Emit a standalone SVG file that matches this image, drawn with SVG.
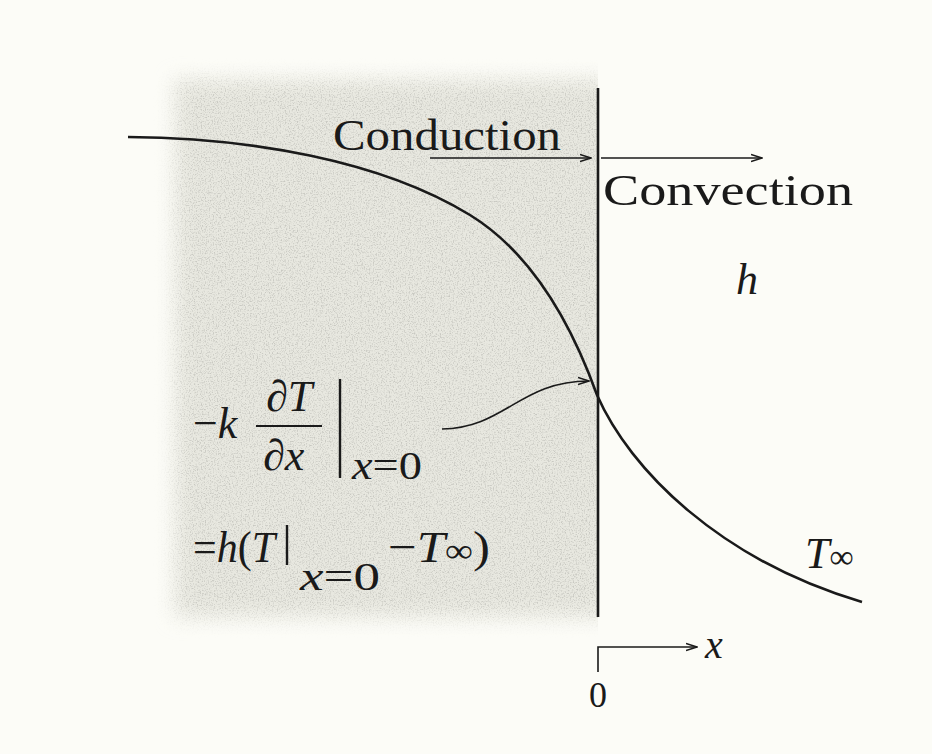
<svg xmlns="http://www.w3.org/2000/svg" width="932" height="754" viewBox="0 0 932 754">
<defs>
<style>
.t{font-family:"Liberation Serif","Times New Roman",serif;fill:#1a1a1a}
.i{font-style:italic}
.ln{fill:none;stroke:#1a1a1a}
</style>
<filter id="blur" x="-10%" y="-10%" width="120%" height="120%"><feGaussianBlur stdDeviation="10"/></filter>
<filter id="noise" x="0" y="0" width="100%" height="100%"><feTurbulence type="fractalNoise" baseFrequency="0.75" numOctaves="2" seed="4"/><feColorMatrix type="matrix" values="0 0 0 0 0.4  0 0 0 0 0.4  0 0 0 0 0.37  3.2 0 0 0 -1.5"/></filter>
<mask id="shadeMask"><rect x="175" y="80" width="450" height="537" fill="#fff" filter="url(#blur)"/></mask>
<marker id="ah" viewBox="0 0 12 10" refX="11" refY="5" markerWidth="12" markerHeight="10" markerUnits="userSpaceOnUse" orient="auto"><path d="M0,1.5 L11,5 L0,8.5" fill="none" stroke="#1a1a1a" stroke-width="1.5"/></marker>
<clipPath id="clipL"><rect x="0" y="0" width="598" height="754"/></clipPath>
</defs>
<rect width="932" height="754" fill="#fcfcf7"/>
<g id="shade" clip-path="url(#clipL)">
<rect x="175" y="80" width="450" height="537" fill="#e8e8e0" filter="url(#blur)"/>
<rect x="150" y="55" width="460" height="585" filter="url(#noise)" mask="url(#shadeMask)" opacity="0.5"/>
</g>
<g id="wall"><line class="ln" x1="598" y1="88" x2="598" y2="617" stroke-width="2.6"/></g>
<g id="curve"><path class="ln" stroke-width="2.6" d="M128,137 C250,138 380,160 470,215 C530,252 570,320 597,395 C630,470 720,560 862,602"/></g>
<g id="connectors">
<line class="ln" x1="430" y1="158" x2="591" y2="158" stroke-width="1.6" marker-end="url(#ah)"/>
<line class="ln" x1="601" y1="158" x2="762" y2="158" stroke-width="1.6" marker-end="url(#ah)"/>
<path class="ln" stroke-width="1.6" d="M442,429 C505,428 520,381 589,381" marker-end="url(#ah)"/>
<path class="ln" stroke-width="1.6" d="M598,672 L598,647 L697,647" marker-end="url(#ah)"/>
</g>
<g id="conduction"><text class="t" x="333" y="150" font-size="44" textLength="228" lengthAdjust="spacingAndGlyphs">Conduction</text></g>
<g id="convection"><text class="t" x="603" y="205" font-size="44" textLength="250" lengthAdjust="spacingAndGlyphs">Convection</text></g>
<g id="h"><text class="t i" x="736" y="294" font-size="44">h</text></g>
<g id="flux">
<text class="t" x="193" y="438" font-size="44">−<tspan class="i">k</tspan></text>
<text class="t" x="266" y="411" font-size="44">∂<tspan class="i">T</tspan></text>
<line class="ln" x1="256" y1="426" x2="322" y2="426" stroke-width="2"/>
<text class="t" x="263" y="470" font-size="44">∂<tspan class="i">x</tspan></text>
<line class="ln" x1="340" y1="379" x2="340" y2="478" stroke-width="2.4"/>
<text class="t" x="352" y="479" font-size="40" textLength="70" lengthAdjust="spacingAndGlyphs"><tspan class="i">x</tspan>=0</text>
</g>
<g id="eq">
<text class="t" x="193" y="562" font-size="44" textLength="82" lengthAdjust="spacingAndGlyphs">=<tspan class="i">h</tspan>(<tspan class="i">T</tspan></text>
<line class="ln" x1="287" y1="525" x2="287" y2="565" stroke-width="2.4"/>
<text class="t" x="300" y="590" font-size="40" textLength="80" lengthAdjust="spacingAndGlyphs"><tspan class="i">x</tspan>=0</text>
<text class="t" x="388" y="562" font-size="44" textLength="102" lengthAdjust="spacingAndGlyphs">−<tspan class="i">T</tspan><tspan font-size="34">∞</tspan>)</text>
</g>
<g id="tinf"><text class="t" x="805" y="568" font-size="44"><tspan class="i">T</tspan><tspan font-size="34">∞</tspan></text></g>
<g id="axis">
<text class="t i" x="705" y="658" font-size="40">x</text>
<text class="t" x="589" y="707" font-size="36">0</text>
</g>
</svg>
